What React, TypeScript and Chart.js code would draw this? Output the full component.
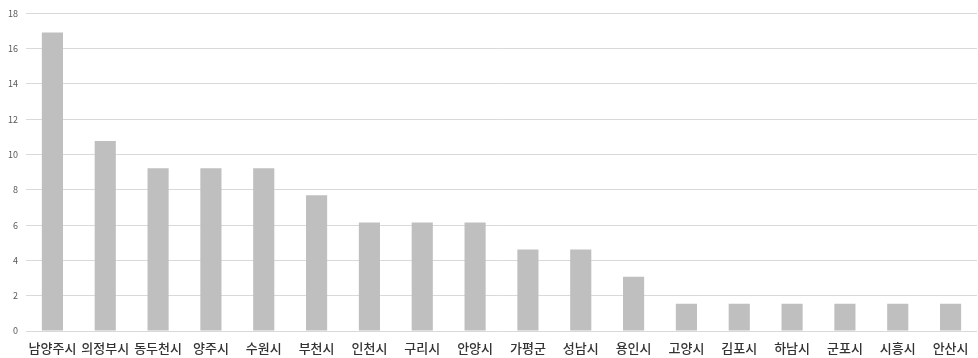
import React, { useEffect, useRef } from "react";
import { Chart, registerables } from "chart.js";

Chart.register(...registerables);

const categories = ["남양주시", "의정부시", "동두천시", "양주시", "수원시", "부천시", "인천시", "구리시", "안양시", "가평군", "성남시", "용인시", "고양시", "김포시", "하남시", "군포시", "시흥시", "안산시"];
const values = [16.92, 10.77, 9.23, 9.23, 9.23, 7.69, 6.15, 6.15, 6.15, 4.62, 4.62, 3.08, 1.54, 1.54, 1.54, 1.54, 1.54, 1.54];
const yTicks = [0, 2, 4, 6, 8, 10, 12, 14, 16, 18];

export default function App() {
  const ref = useRef<HTMLCanvasElement>(null);
  useEffect(() => {
    const chart = new Chart(ref.current!, {
      type: "bar",
      data: {
        labels: categories,
        datasets: [{ data: values, backgroundColor: "#bfbfbf", barPercentage: 0.4, categoryPercentage: 1 }],
      },
      options: {
        animation: false,
        responsive: true,
        maintainAspectRatio: false,
        layout: { padding: { top: 12, right: 1, left: 0, bottom: 0 } },
        plugins: { legend: { display: false }, tooltip: { enabled: false } },
        scales: {
          x: {
            grid: { display: false },
            border: { display: false },
            ticks: { autoSkip: false, maxRotation: 0, minRotation: 0, padding: 1, color: "#333333", font: { family: "'Noto Sans CJK KR'", size: 13, weight: "500", lineHeight: 1.2 } },
            afterFit: (s: any) => { s.height = 27; },
          },
          y: {
            min: 0,
            max: 18,
            afterBuildTicks: (s: any) => { s.ticks = yTicks.map((v) => ({ value: v })); },
            grid: { color: "#d9d9d9", drawTicks: false },
            border: { display: false },
            ticks: { padding: 8, color: "#595959", font: { family: "'Noto Sans CJK KR'", size: 9 } },
            afterFit: (s: any) => { s.width = 26; },
          },
        },
      },
    });
    return () => chart.destroy();
  }, []);
  return (
    <div style={{ position: "absolute", left: 0, top: 0, width: 978, height: 358 }}>
      <canvas ref={ref} />
    </div>
  );
}
